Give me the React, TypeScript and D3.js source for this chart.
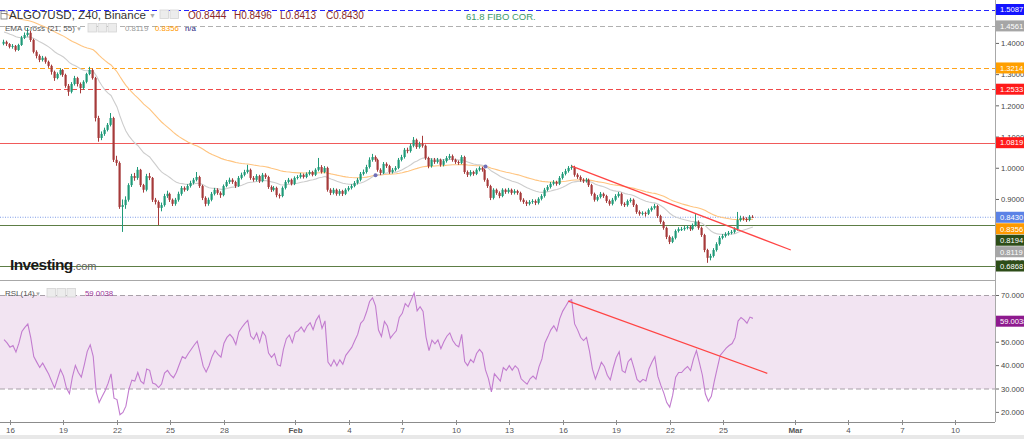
import React from "react";
import * as d3 from "d3";

// ALGO/USD 4h candles, Jan 15 16:00 -> Feb 26 16:00 (2022)
const firstCandle = Date.UTC(2022, 0, 15, 16);
const firstOpen = 1.399;

const closes = [
  1.405, 1.398, 1.389, 1.392, 1.379, 1.395, 1.418, 1.427, 1.434, 1.411,
  1.373, 1.36, 1.347, 1.354, 1.341, 1.328, 1.309, 1.289, 1.302, 1.315,
  1.299, 1.264, 1.245, 1.27, 1.289, 1.27, 1.257, 1.277, 1.302, 1.315,
  1.289, 1.161, 1.097, 1.11, 1.123, 1.139, 1.161, 1.027, 1.017, 0.876,
  0.882, 0.899, 0.946, 0.975, 0.969, 0.995, 0.946, 0.931, 0.975, 0.969,
  0.899, 0.892, 0.873, 0.882, 0.911, 0.918, 0.899, 0.886, 0.899, 0.918,
  0.937, 0.931, 0.943, 0.953, 0.963, 0.972, 0.943, 0.905, 0.886, 0.899,
  0.918, 0.931, 0.921, 0.914, 0.943, 0.956, 0.963, 0.956, 0.943, 0.969,
  0.979, 0.988, 0.995, 0.969, 0.963, 0.975, 0.959, 0.979, 0.972, 0.94,
  0.931, 0.937, 0.914, 0.911, 0.937, 0.956, 0.963, 0.95, 0.969, 0.972,
  0.979, 0.972, 0.982, 0.988, 0.979, 0.995, 1.004, 0.988, 1.001, 0.931,
  0.921, 0.931, 0.918, 0.927, 0.918, 0.931, 0.937, 0.943, 0.953, 0.963,
  0.982, 0.988, 1.004, 1.027, 1.036, 1.027, 0.995, 0.985, 1.014, 1.007,
  0.988, 0.995, 1.001, 1.027, 1.036, 1.059, 1.055, 1.072, 1.091, 1.068,
  1.078, 1.072, 1.033, 1.007, 1.027, 1.02, 1.027, 1.011, 1.023, 1.033,
  1.039, 1.027, 1.02, 1.017, 1.036, 0.988, 0.979, 0.988, 0.982, 0.995,
  1.001, 0.995, 0.963, 0.943, 0.905, 0.931, 0.921, 0.911, 0.931, 0.924,
  0.931, 0.921, 0.927, 0.921, 0.899, 0.892, 0.886, 0.892, 0.895, 0.889,
  0.902, 0.911, 0.931, 0.94, 0.95, 0.956, 0.95, 0.969, 0.982, 0.991,
  1.001, 1.004, 0.979, 0.972, 0.963, 0.959, 0.963, 0.946, 0.918, 0.899,
  0.908, 0.918, 0.911, 0.895, 0.886, 0.899, 0.911, 0.918, 0.886, 0.882,
  0.895, 0.899, 0.882, 0.86, 0.854, 0.857, 0.854, 0.866, 0.873, 0.879,
  0.847, 0.828, 0.809, 0.78, 0.764, 0.777, 0.799, 0.805, 0.805, 0.809,
  0.812, 0.805, 0.818, 0.828, 0.809, 0.786, 0.738, 0.713, 0.719, 0.738,
  0.757, 0.777, 0.783, 0.789, 0.793, 0.796, 0.805, 0.834, 0.841, 0.838,
  0.834, 0.8444, 0.843,
];

const highs = [
  1.412, 1.409, 1.401, 1.398, 1.395, 1.399, 1.424, 1.435, 1.45, 1.44,
  1.415, 1.378, 1.365, 1.36, 1.358, 1.345, 1.332, 1.313, 1.307, 1.32,
  1.318, 1.303, 1.27, 1.276, 1.296, 1.293, 1.275, 1.282, 1.306, 1.325,
  1.32, 1.293, 1.168, 1.118, 1.13, 1.145, 1.177, 1.165, 1.04, 1.022,
  0.9, 0.91, 0.952, 0.982, 0.985, 1.004, 0.998, 0.95, 0.982, 0.985,
  0.972, 0.905, 0.897, 0.89, 0.918, 0.928, 0.922, 0.903, 0.905, 0.925,
  0.943, 0.942, 0.949, 0.96, 0.969, 0.988, 0.976, 0.947, 0.91, 0.906,
  0.924, 0.937, 0.936, 0.926, 0.948, 0.962, 0.97, 0.968, 0.96, 0.975,
  0.986, 0.995, 1.011, 0.999, 0.975, 0.981, 0.979, 0.985, 0.984, 0.976,
  0.945, 0.943, 0.941, 0.919, 0.942, 0.962, 0.969, 0.967, 0.974, 0.978,
  0.985, 0.983, 0.987, 0.994, 0.992, 1.0, 1.033, 1.01, 1.007, 1.005,
  0.936, 0.937, 0.935, 0.933, 0.931, 0.936, 0.943, 0.949, 0.959, 0.969,
  0.988, 0.996, 1.011, 1.035, 1.046, 1.041, 1.031, 1.0, 1.02, 1.019,
  1.011, 1.001, 1.007, 1.033, 1.043, 1.065, 1.066, 1.079, 1.1, 1.095,
  1.085, 1.104, 1.076, 1.037, 1.032, 1.033, 1.033, 1.031, 1.029, 1.039,
  1.046, 1.044, 1.031, 1.025, 1.042, 1.04, 0.993, 0.994, 0.992, 1.0,
  1.006, 1.005, 0.999, 0.968, 0.947, 0.936, 0.935, 0.926, 0.936, 0.935,
  0.937, 0.935, 0.933, 0.931, 0.925, 0.904, 0.897, 0.898, 0.901, 0.9,
  0.907, 0.917, 0.937, 0.946, 0.956, 0.962, 0.96, 0.975, 0.988, 0.998,
  1.007, 1.011, 1.008, 0.984, 0.977, 0.968, 0.969, 0.967, 0.95, 0.922,
  0.914, 0.924, 0.922, 0.915, 0.9, 0.905, 0.917, 0.924, 0.922, 0.891,
  0.9, 0.905, 0.903, 0.886, 0.865, 0.862, 0.861, 0.871, 0.878, 0.886,
  0.883, 0.851, 0.832, 0.813, 0.785, 0.782, 0.804, 0.811, 0.812, 0.815,
  0.818, 0.816, 0.823, 0.853, 0.833, 0.813, 0.79, 0.742, 0.726, 0.744,
  0.763, 0.783, 0.789, 0.795, 0.799, 0.802, 0.811, 0.86, 0.848, 0.846,
  0.843, 0.85, 0.8496,
];

const lows = [
  1.394, 1.392, 1.384, 1.383, 1.374, 1.376, 1.392, 1.414, 1.422, 1.405,
  1.368, 1.352, 1.34, 1.342, 1.335, 1.322, 1.3, 1.28, 1.285, 1.298,
  1.293, 1.258, 1.232, 1.24, 1.265, 1.262, 1.24, 1.252, 1.272, 1.298,
  1.284, 1.15, 1.085, 1.09, 1.104, 1.118, 1.134, 1.02, 1.008, 0.87,
  0.796, 0.87, 0.893, 0.94, 0.96, 0.963, 0.94, 0.922, 0.926, 0.962,
  0.892, 0.884, 0.818, 0.862, 0.877, 0.905, 0.892, 0.879, 0.88, 0.893,
  0.912, 0.925, 0.927, 0.938, 0.948, 0.958, 0.937, 0.898, 0.878, 0.88,
  0.894, 0.913, 0.915, 0.905, 0.91, 0.939, 0.95, 0.95, 0.937, 0.94,
  0.964, 0.974, 0.983, 0.963, 0.957, 0.958, 0.953, 0.955, 0.966, 0.934,
  0.924, 0.926, 0.907, 0.903, 0.907, 0.932, 0.951, 0.945, 0.946, 0.964,
  0.967, 0.967, 0.968, 0.977, 0.974, 0.975, 0.99, 0.983, 0.984, 0.925,
  0.914, 0.916, 0.912, 0.912, 0.911, 0.914, 0.926, 0.932, 0.939, 0.948,
  0.958, 0.977, 0.983, 0.999, 1.021, 1.021, 0.989, 0.978, 0.981, 1.001,
  0.982, 0.983, 0.99, 0.997, 1.022, 1.031, 1.048, 1.05, 1.067, 1.062,
  1.063, 1.066, 1.027, 1.0, 1.002, 1.014, 1.015, 1.005, 1.006, 1.018,
  1.028, 1.021, 1.014, 1.011, 1.013, 0.982, 0.972, 0.974, 0.976, 0.978,
  0.99, 0.989, 0.957, 0.937, 0.898, 0.9, 0.915, 0.904, 0.907, 0.918,
  0.919, 0.915, 0.916, 0.915, 0.893, 0.886, 0.879, 0.881, 0.886, 0.882,
  0.884, 0.897, 0.906, 0.926, 0.935, 0.945, 0.944, 0.946, 0.964, 0.977,
  0.986, 0.995, 0.973, 0.966, 0.957, 0.953, 0.954, 0.94, 0.912, 0.893,
  0.894, 0.903, 0.905, 0.889, 0.88, 0.881, 0.894, 0.906, 0.88, 0.876,
  0.877, 0.89, 0.876, 0.854, 0.848, 0.849, 0.845, 0.85, 0.861, 0.868,
  0.841, 0.822, 0.803, 0.773, 0.757, 0.76, 0.772, 0.794, 0.799, 0.8,
  0.804, 0.799, 0.801, 0.813, 0.803, 0.78, 0.731, 0.697, 0.705, 0.714,
  0.733, 0.752, 0.772, 0.778, 0.784, 0.788, 0.791, 0.8, 0.829, 0.832,
  0.828, 0.83, 0.8413,
];

// indicator starting state (values carried in from before the visible range)
const emaPeriods = [21, 55];
const emaSeeds = [1.44, 1.5];
const rsiPeriod = 14;
const rsiSeedGain = 0.01;
const rsiSeedLoss = 0.01;

// time axis
const tickDates = [
  "2022-01-16", "2022-01-19", "2022-01-22", "2022-01-25", "2022-01-28",
  "2022-02-01", "2022-02-04", "2022-02-07", "2022-02-10", "2022-02-13",
  "2022-02-16", "2022-02-19", "2022-02-22", "2022-02-25", "2022-03-01",
  "2022-03-04", "2022-03-07", "2022-03-10",
];
const tickLabels = ["16", "19", "22", "25", "28", "Feb", "4", "7", "10", "13", "16", "19", "22", "25", "Mar", "4", "7", "10"];

const priceTicks = [0.7, 0.8, 0.9, 1.0, 1.1, 1.2, 1.3, 1.4, 1.5];
const rsiTicks = [20, 30, 40, 50, 60, 70];

// horizontal levels drawn on the price panel
const levelValues = [1.5087, 1.4561, 1.3214, 1.2533, 1.0819, 0.8194, 0.6868];
const lastPrice = 0.843;
const emaLastText = ["0.8119", "0.8356"];
const rsiLastText = "59.0038";
const rsiLastValue = 59.0038;

// trend lines (date, value)
const priceTrend: [string, number][] = [["2022-02-16T12:00:00Z", 1.007], ["2022-02-28T19:00:00Z", 0.738]];
const rsiTrend: [string, number][] = [["2022-02-16T07:30:00Z", 67.6], ["2022-02-27T11:20:00Z", 36.7]];

const W = 1024;
const H = 439;
const PLOT_R = 995;
const GREEN = "#1f9a78";
const RED = "#a63a3a";
const FONT = "'Liberation Sans', Arial, sans-serif";
const AXIS_FS = 7.6;

const levelStyle = [
  { color: "#2424ff", dash: "5,3", box: "#1414ff" },
  { color: "#b0b0b0", dash: "5,3", box: "#a6a6a6" },
  { color: "#ffa31a", dash: "5,3", box: "#ff9f00" },
  { color: "#f04a4a", dash: "5,3", box: "#ff1a1a" },
  { color: "#f05a5a", dash: "", box: "#ff1a1a" },
  { color: "#5d7d45", dash: "", box: "#2d4d18" },
  { color: "#5d7d45", dash: "", box: "#2d4d18" },
];

const Icons = ({ x, y, n }: { x: number; y: number; n: number }) => (
  <g>
    {d3.range(n).map((k) => (
      <rect key={k} x={x + k * 10} y={y} width={8.5} height={8.5} fill="#ececec" stroke="#d4d4d4" strokeWidth={0.8} />
    ))}
  </g>
);

const App = () => {
  const x = d3
    .scaleUtc()
    .domain([new Date("2022-01-16T00:00:00Z"), new Date("2022-03-10T00:00:00Z")])
    .range([10, 955]);
  const y = d3.scaleLinear().domain([0.6868, 1.5087]).range([266, 9.5]);
  const yr = d3.scaleLinear().domain([30, 70]).range([389, 295.5]);

  const times = closes.map((_, i) => new Date(firstCandle + i * 4 * 3600 * 1000));
  const opens = closes.map((_, i) => (i === 0 ? firstOpen : closes[i - 1]));

  const emas = emaPeriods.map((n, j) => {
    const k = 2 / (n + 1);
    let e = emaSeeds[j];
    return closes.map((c) => (e = c * k + e * (1 - k)));
  });

  let ag = rsiSeedGain;
  let al = rsiSeedLoss;
  const rsi = closes.map((c, i) => {
    const d = c - opens[i];
    ag = (ag * (rsiPeriod - 1) + Math.max(d, 0)) / rsiPeriod;
    al = (al * (rsiPeriod - 1) + Math.max(-d, 0)) / rsiPeriod;
    return 100 - 100 / (1 + ag / al);
  });

  const crosses = closes
    .map((_, i) => i)
    .filter((i) => i > 0 && Math.sign(emas[0][i] - emas[1][i]) !== Math.sign(emas[0][i - 1] - emas[1][i - 1]));

  const line = d3
    .line<number>()
    .x((_, i) => x(times[i]))
    .y((d) => y(d));
  const rsiLine = d3
    .line<number>()
    .x((_, i) => x(times[i]))
    .y((d) => yr(d));

  // right-axis value boxes, pushed down when they overlap
  const boxes = [
    ...levelValues.map((v, i) => ({ v, text: v.toFixed(4), color: levelStyle[i].box })),
    { v: lastPrice, text: "0.8430", color: "#5b82e6" },
    { v: emas[1][emas[1].length - 1], text: emaLastText[1], color: "#ff9900" },
    { v: emas[0][emas[0].length - 1], text: emaLastText[0], color: "#a6a6a6" },
  ]
    .map((b) => ({ ...b, y: y(b.v) }))
    .sort((a, b) => a.y - b.y);
  for (let i = 1; i < boxes.length; i++) boxes[i].y = Math.max(boxes[i].y, boxes[i - 1].y + 11.5);

  // tick labels fully covered by a value box are not visible, skip them
  const hidden = (ty: number, ys: number[]) => ys.some((by) => Math.abs(by - ty) < 3);
  const visPriceTicks = priceTicks.filter((t) => !hidden(y(t), boxes.map((b) => b.y)));
  const visRsiTicks = rsiTicks.filter((t) => !hidden(yr(t), [yr(rsiLastValue)]));

  return (
    <svg
      width={W}
      height={H}
      style={{ position: "absolute", left: 0, top: 0, background: "#fff" }}
      fontFamily={FONT}
    >
      {/* RSI band */}
      <rect x={0} y={yr(70)} width={PLOT_R} height={yr(30) - yr(70)} fill="#f2e4f2" />
      {[70, 30].map((v) => (
        <line key={v} x1={0} x2={PLOT_R} y1={yr(v)} y2={yr(v)} stroke="#a8a0a8" strokeDasharray="5,3" />
      ))}

      {/* levels */}
      {levelValues.map((v, i) => (
        <line
          key={v}
          x1={0}
          x2={PLOT_R}
          y1={Math.round(y(v)) + 0.5}
          y2={Math.round(y(v)) + 0.5}
          stroke={levelStyle[i].color}
          strokeDasharray={levelStyle[i].dash || undefined}
        />
      ))}
      <line x1={0} x2={PLOT_R} y1={y(lastPrice)} y2={y(lastPrice)} stroke="#7f9de8" strokeDasharray="1,1.5" />
      <text x={466} y={20} fontSize={9.5} fill="#3a9a6a">61.8 FIBO COR.</text>

      {/* watermark */}
      <text x={10} y={270} fontSize={15.5} fontWeight="bold" fill="#1a1a1a" letterSpacing={-0.6}>
        Investing<tspan fontSize={11} fontWeight="normal" fill="#666" letterSpacing={0}>.com</tspan>
      </text>

      {/* EMAs */}
      <path d={line(emas[1]) ?? ""} fill="none" stroke="#ffc47f" strokeWidth={1.1} />
      <path d={line(emas[0]) ?? ""} fill="none" stroke="#cdcdcd" strokeWidth={1.1} />

      {/* candles */}
      {closes.map((c, i) => {
        const o = opens[i];
        const cx = Math.round(x(times[i]));
        const col = c >= o ? GREEN : RED;
        const top = y(Math.max(o, c));
        const bot = y(Math.min(o, c));
        return (
          <g key={i}>
            <line x1={cx - 0.5} x2={cx - 0.5} y1={y(highs[i])} y2={y(lows[i])} stroke={col} strokeWidth={1} />
            <rect x={cx - 1.5} y={top} width={2.2} height={Math.max(1, bot - top)} fill={col} />
          </g>
        );
      })}

      {crosses.map((i) => (
        <circle key={i} cx={x(times[i])} cy={y(emas[0][i])} r={2} fill="#7070b8" />
      ))}

      {/* trend line on price */}
      <line
        x1={x(new Date(priceTrend[0][0]))}
        y1={y(priceTrend[0][1])}
        x2={x(new Date(priceTrend[1][0]))}
        y2={y(priceTrend[1][1])}
        stroke="#ff4444"
        strokeWidth={1.2}
      />

      {/* RSI */}
      <path d={rsiLine(rsi) ?? ""} fill="none" stroke="#c27ccf" strokeWidth={1.1} />
      <line
        x1={x(new Date(rsiTrend[0][0]))}
        y1={yr(rsiTrend[0][1])}
        x2={x(new Date(rsiTrend[1][0]))}
        y2={yr(rsiTrend[1][1])}
        stroke="#ff4444"
        strokeWidth={1.2}
      />

      {/* panel separators */}
      <line x1={0} x2={PLOT_R} y1={280.5} y2={280.5} stroke="#a8a8a8" />
      <line x1={PLOT_R + 0.5} x2={PLOT_R + 0.5} y1={0} y2={422} stroke="#a8a8a8" />
      <line x1={0} x2={PLOT_R} y1={422.5} y2={422.5} stroke="#8c8c8c" />

      {/* time axis */}
      {tickDates.map((d, i) => {
        const tx = Math.round(x(new Date(d + "T00:00:00Z"))) + 0.5;
        const bold = tickLabels[i] === "Feb" || tickLabels[i] === "Mar";
        return (
          <g key={d}>
            <line x1={tx} x2={tx} y1={420} y2={425} stroke="#8c8c8c" />
            <text x={tx} y={432.5} fontSize={8} fill="#555" textAnchor="middle" fontWeight={bold ? "bold" : "normal"}>
              {tickLabels[i]}
            </text>
          </g>
        );
      })}
      <rect x={0} y={435} width={W} height={4} fill="#e8e8e8" />

      {/* price axis */}
      {priceTicks.map((t) => (
        <line key={t} x1={996} x2={999} y1={y(t)} y2={y(t)} stroke="#666" />
      ))}
      {visPriceTicks.map((t) => (
        <text key={t} x={1001} y={y(t) + 2.8} fontSize={AXIS_FS} fill="#444">{t.toFixed(4)}</text>
      ))}
      {boxes.map((b) => (
        <g key={b.text + b.v}>
          <rect x={996} y={b.y - 5.5} width={28} height={11} fill={b.color} />
          <text x={1000} y={b.y + 2.8} fontSize={AXIS_FS} fill="#fff">{b.text}</text>
        </g>
      ))}

      {/* RSI axis */}
      {rsiTicks.map((t) => (
        <line key={t} x1={996} x2={999} y1={yr(t)} y2={yr(t)} stroke="#666" />
      ))}
      {visRsiTicks.map((t) => (
        <text key={t} x={1001} y={yr(t) + 2.8} fontSize={AXIS_FS} fill="#444">{t.toFixed(4)}</text>
      ))}
      <rect x={996} y={yr(rsiLastValue) - 5.5} width={28} height={11} fill="#8e1a8e" />
      <text x={1000} y={yr(rsiLastValue) + 2.8} fontSize={AXIS_FS} fill="#fff">{rsiLastText}</text>

      {/* legends */}
      <rect x={1} y={11} width={6} height={8} fill="none" stroke="#777" strokeWidth={0.8} />
      <line x1={1} x2={7} y1={13.5} y2={13.5} stroke="#777" strokeWidth={0.8} />
      <text x={9} y={19} fontSize={11.5} fill="#333">ALGO7USD, Z40, Binance</text>
      <text x={149} y={18} fontSize={7} fill="#aaa">▼</text>
      <Icons x={160} y={10} n={2} />
      {["O0.8444", "H0.8496", "L0.8413", "C0.8430"].map((t, i) => (
        <text key={t} x={188 + i * 46} y={19} fontSize={10} fill="#8b2a2a">{t}</text>
      ))}

      <text x={5} y={31} fontSize={8} fill="#555">EMA Cross (21, 55)</text>
      <text x={76} y={30.5} fontSize={6} fill="#aaa">▼</text>
      <Icons x={88} y={23.5} n={3} />
      <text x={125} y={31} fontSize={7.8} fill="#999">{emaLastText[0]}</text>
      <text x={155} y={31} fontSize={7.8} fill="#ff9900">{emaLastText[1]}</text>
      <text x={185} y={31} fontSize={7.8} fill="#1a237e">n/a</text>

      <text x={5} y={296} fontSize={8} fill="#555">RSI (14)</text>
      <text x={35} y={295.5} fontSize={6} fill="#aaa">▼</text>
      <Icons x={47} y={288.5} n={3} />
      <text x={85} y={296} fontSize={7.8} fill="#993399">{rsiLastText}</text>
    </svg>
  );
};

export default App;
